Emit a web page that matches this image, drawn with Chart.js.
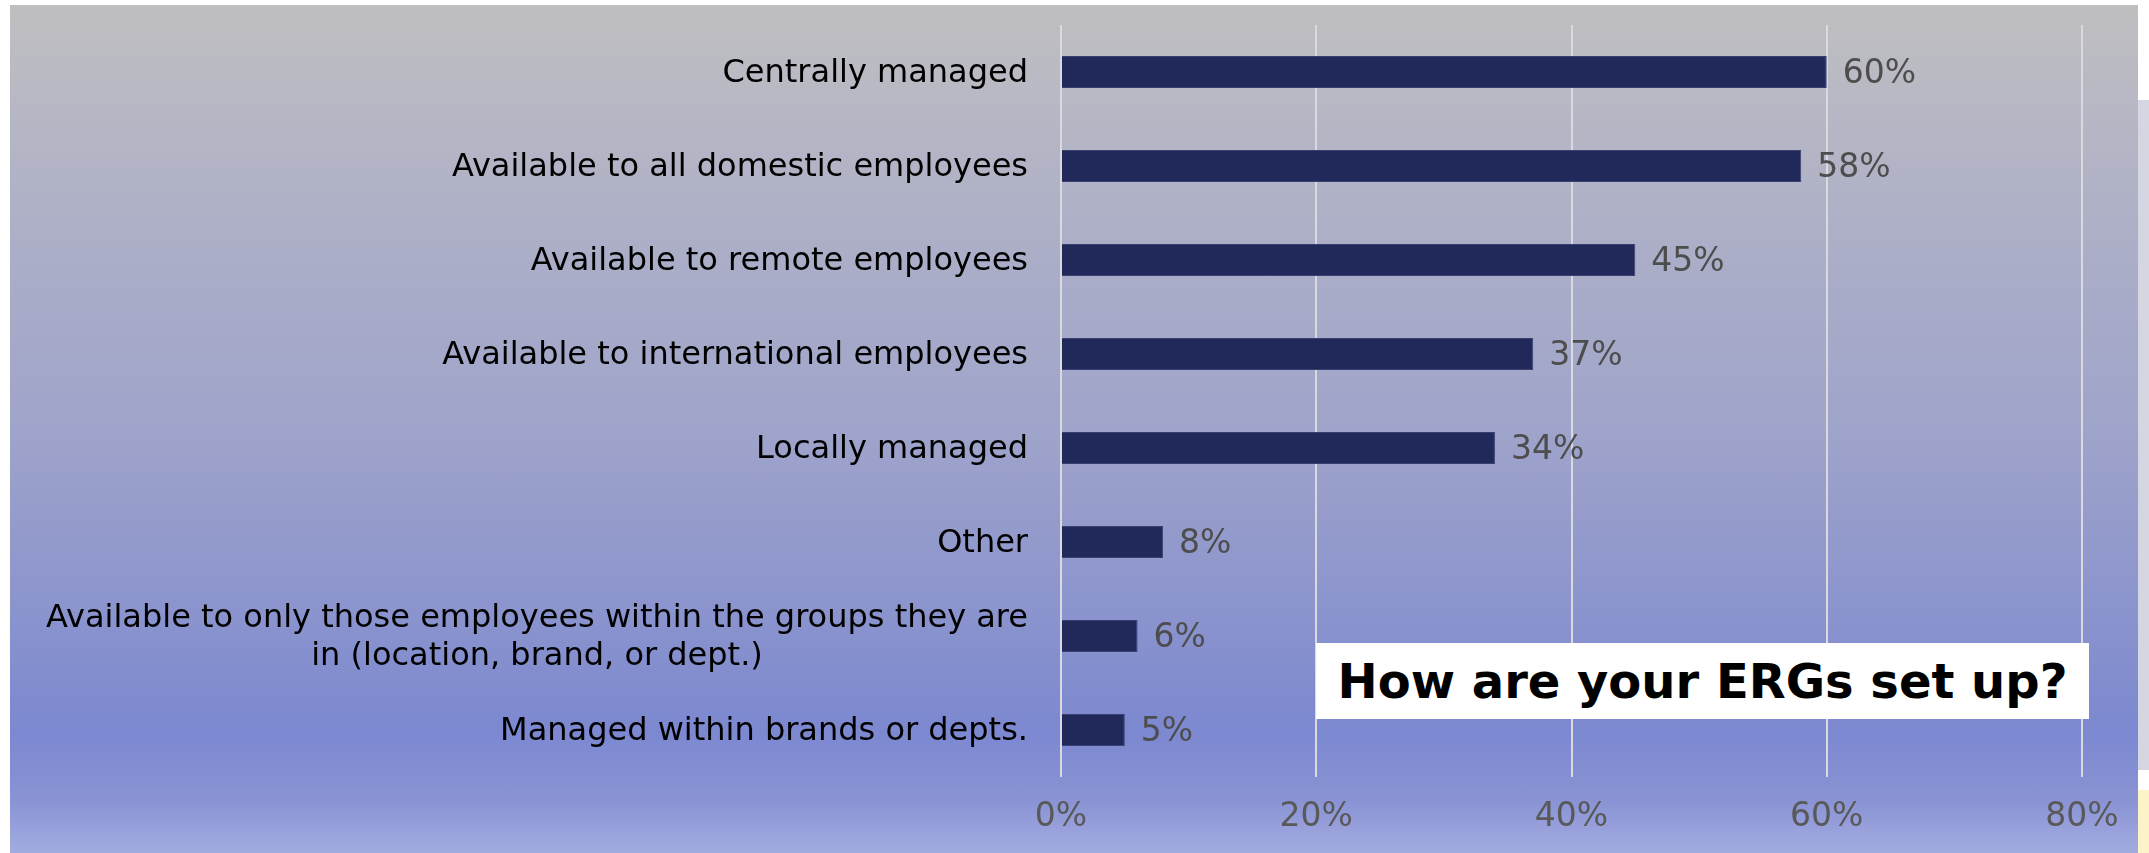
<!DOCTYPE html>
<html>
<head>
<meta charset="utf-8">
<script src="https://cdn.jsdelivr.net/npm/chart.js@4/dist/chart.umd.min.js"></script>
<style>
  html, body { margin: 0; padding: 0; background: #ffffff; overflow: hidden; }
  #wrap { position: relative; width: 2149px; height: 853px; }
  #panel {
    position: absolute; left: 10px; top: 5px; width: 2128px; height: 848px;
    background: linear-gradient(to bottom, #bfbfc1 0%, #aeb0c7 25%, #9fa4ca 50%, #8c95cd 70%, #7c88d0 86%, #8a94d5 94%, #a3ace0 100%);
  }
  #side {
    position: absolute; left: 2138px; top: 100px; width: 11px; height: 670px;
    background: #d4d7e2;
  }
  #side2 {
    position: absolute; left: 2138px; top: 790px; width: 11px; height: 63px;
    background: #fdf3c8;
  }
  #chart { position: absolute; left: 0; top: 0; }
  #title {
    position: absolute; left: 1316px; top: 643px; width: 773px; height: 76px;
    background: #ffffff; color: #000000;
    font: bold 48px "DejaVu Sans", sans-serif;
    display: flex; align-items: center; justify-content: center;
  }
</style>
</head>
<body>
<div id="wrap">
  <div id="panel"></div>
  <div id="side"></div>
  <div id="side2"></div>
  <canvas id="chart" width="2149" height="853"></canvas>
  <div id="title">How are your ERGs set up?</div>
</div>
<script>
const categories = [
  "Centrally managed",
  "Available to all domestic employees",
  "Available to remote employees",
  "Available to international employees",
  "Locally managed",
  "Other",
  ["Available to only those employees within the groups they are", "in (location, brand, or dept.)"],
  "Managed within brands or depts."
];
const values = [60, 58, 45, 37, 34, 8, 6, 5];
const xTicks = [0, 20, 40, 60, 80];

const FONT = '"DejaVu Sans", sans-serif';

// category labels, drawn by hand so a two-line label can be centred on itself
const categoryLabels = {
  id: 'categoryLabels',
  afterDraw(chart) {
    const ctx = chart.ctx;
    const yScale = chart.scales.y;
    const right = chart.chartArea.left - 33;
    ctx.save();
    ctx.font = '32px ' + FONT;
    ctx.fillStyle = '#000000';
    ctx.textBaseline = 'middle';
    categories.forEach((lab, i) => {
      const y = yScale.getPixelForValue(i) + 2;
      if (Array.isArray(lab)) {
        const w = Math.max(...lab.map(l => ctx.measureText(l).width));
        const cx = right - w / 2;
        const lh = 38;
        ctx.textAlign = 'center';
        lab.forEach((l, k) => {
          ctx.fillText(l, cx, y + (k - (lab.length - 1) / 2) * lh);
        });
      } else {
        ctx.textAlign = 'right';
        ctx.fillText(lab, right, y);
      }
    });
    ctx.restore();
  }
};

const valueLabels = {
  id: 'valueLabels',
  afterDatasetsDraw(chart) {
    const ctx = chart.ctx;
    const meta = chart.getDatasetMeta(0);
    ctx.save();
    ctx.font = '33px ' + FONT;
    ctx.fillStyle = '#4d4d4d';
    ctx.textAlign = 'left';
    ctx.textBaseline = 'middle';
    meta.data.forEach((bar, i) => {
      ctx.fillText(values[i] + '%', bar.x + 16, bar.y + 2);
    });
    ctx.restore();
  }
};

new Chart(document.getElementById('chart'), {
  type: 'bar',
  data: {
    labels: categories,
    datasets: [{
      data: values,
      backgroundColor: '#21285a',
      borderColor: '#3a4172',
      borderWidth: 1,
      categoryPercentage: 1,
      barPercentage: 0.34
    }]
  },
  options: {
    indexAxis: 'y',
    responsive: false,
    animation: false,
    layout: { padding: { top: 25, right: 67, bottom: 0, left: 0 } },
    plugins: {
      legend: { display: false },
      tooltip: { enabled: false }
    },
    scales: {
      x: {
        min: 0,
        max: 80,
        afterBuildTicks(scale) {
          scale.ticks = xTicks.map(v => ({ value: v }));
        },
        afterFit(scale) { scale.height = 76; },
        grid: { color: '#d9d9de', lineWidth: 2, drawTicks: false },
        border: { display: false },
        ticks: {
          padding: 21,
          color: '#595959',
          font: { family: FONT, size: 33 },
          callback: v => v + '%'
        }
      },
      y: {
        afterFit(scale) { scale.width = 1061; },
        grid: { display: false },
        border: { display: false },
        ticks: { display: false }
      }
    }
  },
  plugins: [categoryLabels, valueLabels]
});
</script>
</body>
</html>
